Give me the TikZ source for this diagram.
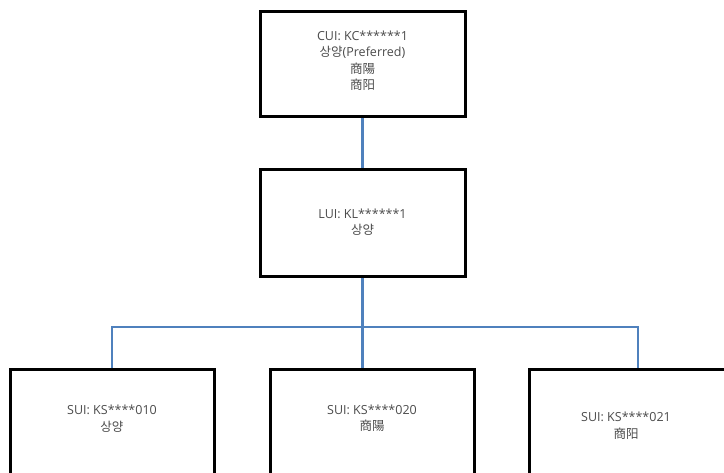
\documentclass[tikz,border=0pt]{standalone}
\usepackage{fontspec}
\setmainfont{Open Sans}
\newfontfamily\cjk{Noto Sans CJK KR}
\begin{document}
\begin{tikzpicture}[x=1pt,y=-1pt,
  box/.style={draw=black,line width=3pt,fill=white,minimum width=#1,inner sep=0pt},
  lbl/.style={align=center,text=black!70,font=\fontsize{12.5}{16.5}\selectfont,inner sep=0pt},
  conn/.style={draw={rgb,255:red,79;green,129;blue,189},line width=2.2pt}]
\useasboundingbox (0,0) rectangle (724,473);
\clip (0,0) rectangle (724,473);
\node[box=205pt,minimum height=105pt] (cui) at (362.5,64.5) {};
\node[box=205pt,minimum height=107pt] (lui) at (362.5,223.5) {};
\node[box=204pt,minimum height=130pt] (sui1) at (112,435) {};
\node[box=204pt,minimum height=130pt] (sui2) at (372,435) {};
\node[box=218pt,minimum height=130pt] (sui3) at (638,435) {};
\coordinate (bus) at (362.5,327);
\draw[conn] (cui.south) -- (lui.north);
\draw[conn] (lui.south) -- (bus);
\draw[conn] (sui1.north) |- (bus) -| (sui3.north);
\draw[conn] (bus) -- (bus |- sui2.north);
\node[lbl] (cuit) at (362.5,61) {CUI: KC******1\\{\cjk 상양}(Preferred)\\{\cjk 商陽}\\{\cjk 商阳}};
\node[lbl] (luit) at (362.5,222) {LUI: KL******1\\{\cjk 상양}};
\node[lbl] (sui1t) at (112,418.5) {SUI: KS****010\\{\cjk 상양}};
\node[lbl] (sui2t) at (372,418.5) {SUI: KS****020\\{\cjk 商陽}};
\node[lbl] (sui3t) at (626,426) {SUI: KS****021\\{\cjk 商阳}};
\end{tikzpicture}
\end{document}
